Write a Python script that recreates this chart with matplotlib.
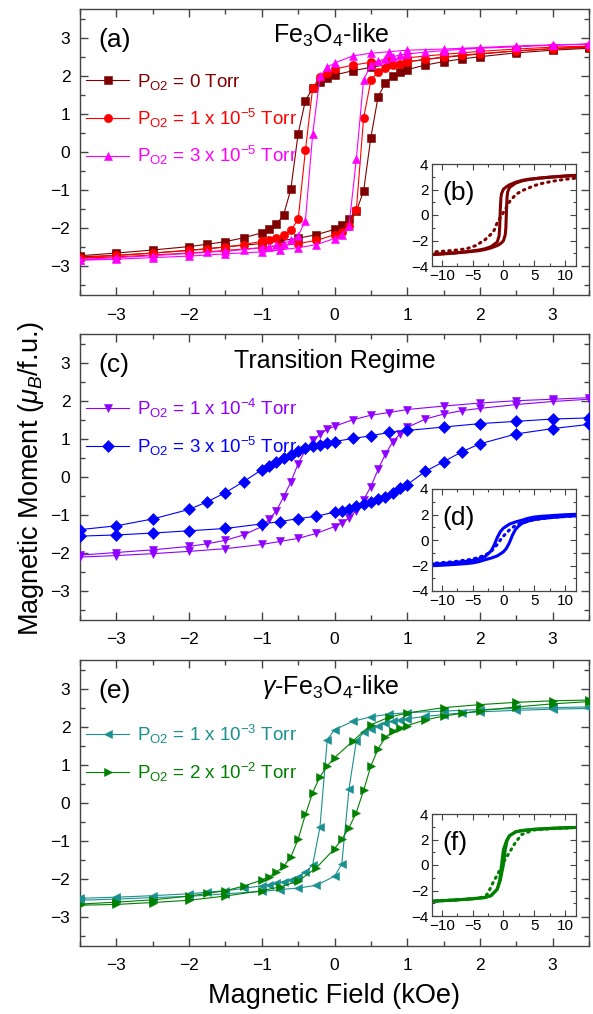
import matplotlib
matplotlib.use("Agg")
import matplotlib.pyplot as plt
from matplotlib.ticker import MultipleLocator

# ---------------------------------------------------------------------------
# Data
# ---------------------------------------------------------------------------
# measurement grid: descending branch (+3.5 -> -3.5), ascending is the mirror
H_DESC = [3.5, 3, 2.5, 2, 1.5, 1, 0.75, 0.5, 0.25, 0, -0.1, -0.2, -0.3, -0.4,
          -0.5, -0.6, -0.7, -0.8, -0.9, -1, -1.25, -1.5, -1.75, -2, -2.5, -3, -3.5]
H_ASC = [-3.5, -3, -2.5, -2, -1.5, -1, -0.75, -0.5, -0.25, 0, 0.1, 0.2, 0.3, 0.4,
         0.5, 0.6, 0.7, 0.8, 0.9, 1, 1.25, 1.5, 1.75, 2, 2.5, 3, 3.5]

# (a) Fe3O4-like
A0_DESC = [2.75, 2.71, 2.65, 2.57, 2.48, 2.37, 2.3, 2.22, 2.13, 2.02, 1.95, 1.84, 1.67, 1.35,
           0.48, -0.97, -1.65, -1.9, -2.03, -2.12, -2.25, -2.35, -2.42, -2.48, -2.57, -2.65, -2.72]
A0_ASC = [-2.75, -2.71, -2.65, -2.58, -2.49, -2.4, -2.33, -2.26, -2.17, -2.03, -1.92, -1.76, -1.55, -1.03,
          0.38, 1.45, 1.81, 1.98, 2.1, 2.16, 2.28, 2.37, 2.44, 2.5, 2.6, 2.67, 2.72]
A1_DESC = [2.78, 2.75, 2.7, 2.64, 2.56, 2.47, 2.41, 2.35, 2.28, 2.17, 2.08, 1.97, 1.68, 0.04,
           -1.77, -2.05, -2.18, -2.25, -2.3, -2.34, -2.43, -2.49, -2.54, -2.58, -2.65, -2.71, -2.77]
A1_ASC = [-2.79, -2.75, -2.7, -2.65, -2.58, -2.51, -2.46, -2.4, -2.32, -2.17, -2.1, -1.93, -1.53, 0.88,
          1.88, 2.1, 2.2, 2.27, 2.32, 2.36, 2.43, 2.49, 2.54, 2.58, 2.65, 2.71, 2.76]
A3_DESC = [2.83, 2.81, 2.78, 2.74, 2.7, 2.67, 2.63, 2.59, 2.52, 2.33, 2.22, 1.98, 0.47, -1.8,
           -2.2, -2.32, -2.4, -2.45, -2.48, -2.51, -2.56, -2.6, -2.63, -2.66, -2.72, -2.77, -2.82]
A3_ASC = [-2.84, -2.81, -2.77, -2.73, -2.67, -2.62, -2.57, -2.51, -2.43, -2.27, -2.17, -1.93, -0.19, 1.9,
          2.27, 2.38, 2.45, 2.5, 2.54, 2.57, 2.62, 2.66, 2.69, 2.72, 2.76, 2.8, 2.83]

# (c) transition regime
C4_DESC = [2.08, 2.04, 2.0, 1.94, 1.86, 1.77, 1.69, 1.62, 1.5, 1.33, 1.25, 1.12, 0.96, 0.7,
           0.35, -0.13, -0.52, -0.89, -1.11, -1.3, -1.52, -1.66, -1.75, -1.82, -1.91, -1.98, -2.05]
C4_ASC = [-2.1, -2.06, -2.01, -1.95, -1.88, -1.77, -1.69, -1.61, -1.48, -1.3, -1.21, -1.08, -0.88, -0.6,
          -0.25, 0.2, 0.6, 0.92, 1.13, 1.3, 1.52, 1.65, 1.74, 1.8, 1.9, 1.98, 2.04]
C3_DESC = [1.55, 1.52, 1.46, 1.4, 1.31, 1.22, 1.17, 1.08, 1.01, 0.93, 0.9, 0.85, 0.8, 0.76,
           0.67, 0.58, 0.49, 0.4, 0.29, 0.19, -0.12, -0.41, -0.65, -0.85, -1.1, -1.28, -1.38]
C3_ASC = [-1.55, -1.52, -1.47, -1.41, -1.35, -1.23, -1.17, -1.09, -1.03, -0.92, -0.89, -0.83, -0.77, -0.71,
          -0.66, -0.58, -0.52, -0.42, -0.3, -0.2, 0.15, 0.4, 0.66, 0.87, 1.13, 1.27, 1.38]

# (e) gamma-Fe3O4-like
E3_DESC = [2.52, 2.5, 2.48, 2.45, 2.41, 2.37, 2.33, 2.26, 2.14, 1.92, 1.66, -0.63, -1.62, -1.82,
           -1.93, -2.01, -2.06, -2.1, -2.14, -2.17, -2.24, -2.3, -2.34, -2.38, -2.43, -2.47, -2.5]
E3_ASC = [-2.55, -2.52, -2.48, -2.45, -2.38, -2.32, -2.27, -2.23, -2.16, -1.92, -1.6, 0.38, 1.62, 1.85,
          1.95, 2.03, 2.09, 2.14, 2.18, 2.21, 2.27, 2.32, 2.36, 2.39, 2.43, 2.46, 2.48]
E2_DESC = [2.7, 2.68, 2.64, 2.58, 2.5, 2.36, 2.25, 2.05, 1.62, 1.19, 0.97, 0.69, 0.27, -0.3,
           -0.95, -1.41, -1.66, -1.82, -1.93, -2.02, -2.18, -2.3, -2.37, -2.44, -2.54, -2.6, -2.65]
E2_ASC = [-2.68, -2.66, -2.61, -2.55, -2.44, -2.3, -2.2, -2.05, -1.7, -1.2, -0.95, -0.65, -0.25, 0.33,
          0.97, 1.42, 1.72, 1.88, 1.97, 2.03, 2.18, 2.28, 2.35, 2.42, 2.52, 2.6, 2.66]

# insets: wide-field loops (solid) and comparison curves (dotted)
HB_DESC = [12, 10, 8, 6, 4, 3, 2, 1, 0.5, 0, -0.3, -0.4, -0.5, -0.6, -0.7, -1, -2, -3, -4, -6, -8, -10, -12]
B_DESC = [3.12, 3.06, 2.99, 2.9, 2.8, 2.71, 2.57, 2.37, 2.22, 2.02, 1.67, 1.35, 0.48, -0.97, -1.65,
          -2.12, -2.48, -2.65, -2.75, -2.88, -2.97, -3.04, -3.1]
HB_ASC = [-12, -10, -8, -6, -4, -3, -2, -1, -0.5, 0, 0.3, 0.4, 0.5, 0.6, 0.7, 1, 2, 3, 4, 6, 8, 10, 12]
B_ASC = [-3.12, -3.06, -2.99, -2.9, -2.8, -2.71, -2.58, -2.4, -2.26, -2.03, -1.55, -1.03, 0.38, 1.45,
         1.81, 2.16, 2.5, 2.67, 2.77, 2.9, 2.98, 3.05, 3.1]
HB_DOT = [-12, -10, -8, -6, -4.5, -3, -2, -1.5, -1, -0.5, 0, 0.5, 1, 2, 3, 4, 5, 6, 8, 10, 12]
B_DOT = [-2.92, -2.85, -2.77, -2.65, -2.4, -1.95, -1.5, -1.2, -0.6, -0.2, 0.2, 0.6, 1.05, 1.6, 1.9,
         2.1, 2.3, 2.45, 2.65, 2.8, 2.9]

HD_DESC = [12, 10, 8, 6, 5, 4, 3, 2, 1, 0, -0.5, -1, -1.5, -2, -2.5, -3, -4, -5, -6, -8, -10, -12]
D_DESC = [2.02, 1.98, 1.92, 1.85, 1.8, 1.7, 1.55, 1.42, 1.25, 0.93, 0.65, 0.19, -0.41, -0.85, -1.1,
          -1.3, -1.48, -1.6, -1.67, -1.77, -1.85, -1.9]
HD_ASC = [-12, -10, -8, -6, -5, -4, -3, -2, -1, 0, 0.5, 1, 1.5, 2, 2.5, 3, 4, 5, 6, 8, 10, 12]
D_ASC = [-2.02, -1.98, -1.92, -1.85, -1.8, -1.7, -1.55, -1.42, -1.25, -0.93, -0.65, -0.19, 0.41, 0.85,
         1.1, 1.3, 1.48, 1.6, 1.67, 1.77, 1.85, 1.9]
HD_DOT = [12, 8, 5, 3, 2, 1, 0.5, 0, -0.5, -1, -2, -3, -5, -8, -12]
D_DOT = [1.9, 1.78, 1.6, 1.35, 1.15, 0.8, 0.55, 0.3, 0.0, -0.35, -0.9, -1.2, -1.5, -1.7, -1.85]

HF_DESC = [12, 8, 5, 3, 2, 1, 0.5, 0, -0.3, -0.6, -1, -2, -3, -5, -8, -12]
F_DESC = [2.95, 2.88, 2.8, 2.7, 2.6, 2.3, 1.9, 1.2, 0.0, -1.2, -1.9, -2.4, -2.55, -2.65, -2.75, -2.85]
HF_ASC = [-12, -8, -5, -3, -2, -1, -0.5, 0, 0.3, 0.6, 1, 2, 3, 5, 8, 12]
F_ASC = [-2.85, -2.75, -2.65, -2.55, -2.4, -1.9, -1.2, 0.0, 1.2, 1.9, 2.3, 2.6, 2.7, 2.8, 2.88, 2.95]
HF_DOT = [-12, -8, -5, -3, -2.5, -2, -1.5, -1, -0.5, 0, 0.5, 1, 1.5, 2, 2.5, 3, 5, 8, 12]
F_DOT = [-2.85, -2.75, -2.65, -2.5, -2.2, -1.7, -1.2, -0.8, -0.3, 0.2, 0.6, 1.0, 1.4, 1.8, 2.1,
         2.4, 2.75, 2.85, 2.95]

# ---------------------------------------------------------------------------
# Style
# ---------------------------------------------------------------------------
plt.rcParams.update({
    "font.family": ["Liberation Sans", "DejaVu Sans"],
    "mathtext.fontset": "custom",
    "mathtext.rm": "Liberation Sans",
    "mathtext.it": "Liberation Sans:italic",
    "mathtext.bf": "Liberation Sans:bold",
    "axes.linewidth": 1.0,
    "axes.edgecolor": "#444444",
    "xtick.direction": "in",
    "ytick.direction": "in",
    "xtick.top": True,
    "ytick.right": True,
    "xtick.color": "#444444",
    "ytick.color": "#444444",
    "xtick.labelcolor": "black",
    "ytick.labelcolor": "black",
})

DARKRED = "#7f0000"
RED = "#ff0000"
MAGENTA = "#ff00ff"
VIOLET = "#8f00ff"
BLUE = "#0000ff"
TEAL = "#1a9090"
GREEN = "#008000"

W, H = 593, 1014
fig = plt.figure(figsize=(W / 100, H / 100), dpi=100)


def px_axes(x0, y0, x1, y1):
    """Add axes from pixel box (left, top, right, bottom)."""
    return fig.add_axes([x0 / W, 1 - y1 / H, (x1 - x0) / W, (y1 - y0) / H])


def style_main(ax):
    ax.set_xlim(-3.5, 3.5)
    ax.set_ylim(-3.75, 3.75)
    ax.xaxis.set_major_locator(MultipleLocator(1))
    ax.xaxis.set_minor_locator(MultipleLocator(0.5))
    ax.yaxis.set_major_locator(MultipleLocator(1))
    ax.yaxis.set_minor_locator(MultipleLocator(0.5))
    ax.tick_params(which="major", length=6, width=1.0, labelsize=12.5)
    ax.tick_params(which="minor", length=3.5, width=1.0)
    ax.tick_params(axis="x", pad=9)
    ax.tick_params(axis="y", pad=7)


def style_inset(ax):
    ax.set_xlim(-11.6, 11.8)
    ax.set_ylim(-4, 4)
    ax.xaxis.set_major_locator(MultipleLocator(5))
    ax.xaxis.set_minor_locator(MultipleLocator(2.5))
    ax.yaxis.set_major_locator(MultipleLocator(2))
    ax.yaxis.set_minor_locator(MultipleLocator(1))
    ax.tick_params(which="major", length=4, width=0.8, labelsize=11, pad=2.5)
    ax.tick_params(which="minor", length=2.5, width=0.8)
    for s in ax.spines.values():
        s.set_linewidth(0.9)


def loop(ax, desc, asc, color, marker, label):
    ax.plot(H_DESC + H_ASC, desc + asc, color=color, lw=0.8, marker=marker,
            ms=6, mec=color, mew=0.4, label=label, zorder=3)


def legend(ax):
    ax.legend(loc="upper left", bbox_to_anchor=(0.012, 0.78), frameon=False,
              fontsize=13.5, handlelength=2.3, handletextpad=0.4, labelspacing=0.78,
              borderpad=0, borderaxespad=0, labelcolor="linecolor")


axA = px_axes(80, 9, 589, 295)
axC = px_axes(80, 334, 589, 620)
axE = px_axes(80, 660, 589, 946)

# (a)
loop(axA, A0_DESC, A0_ASC, DARKRED, "s", r"P$_{\mathrm{O2}}$ = 0 Torr")
loop(axA, A1_DESC, A1_ASC, RED, "o", r"P$_{\mathrm{O2}}$ = 1 x 10$^{-5}$ Torr")
loop(axA, A3_DESC, A3_ASC, MAGENTA, "^", r"P$_{\mathrm{O2}}$ = 3 x 10$^{-5}$ Torr")
axA.text(-3.25, 2.95, "(a)", fontsize=19, va="center", ha="left")
axA.text(-0.05, 3.05, r"Fe$_3$O$_4$-like", fontsize=18, va="center", ha="center")

# (c)
loop(axC, C4_DESC, C4_ASC, VIOLET, "v", r"P$_{\mathrm{O2}}$ = 1 x 10$^{-4}$ Torr")
loop(axC, C3_DESC, C3_ASC, BLUE, "D", r"P$_{\mathrm{O2}}$ = 3 x 10$^{-5}$ Torr")
axC.text(-3.25, 2.95, "(c)", fontsize=19, va="center", ha="left")
axC.text(0.0, 3.03, "Transition Regime", fontsize=18, va="center", ha="center")

# (e)
loop(axE, E3_DESC, E3_ASC, TEAL, "<", r"P$_{\mathrm{O2}}$ = 1 x 10$^{-3}$ Torr")
loop(axE, E2_DESC, E2_ASC, GREEN, ">", r"P$_{\mathrm{O2}}$ = 2 x 10$^{-2}$ Torr")
axE.text(-3.25, 2.95, "(e)", fontsize=19, va="center", ha="left")
axE.text(-0.05, 3.05, r"$\gamma$-Fe$_3$O$_4$-like", fontsize=18, va="center", ha="center")

for ax in (axA, axC, axE):
    style_main(ax)
    legend(ax)

axE.set_xlabel("Magnetic Field (kOe)", fontsize=19.5, labelpad=7)
fig.text(31 / W, 0.528, r"Magnetic Moment ($\mu_B$/f.u.)", fontsize=19.5,
         rotation=90, ha="center", va="center")

# insets
inB = px_axes(432, 164, 576, 266)
inD = px_axes(432, 489, 576, 591)
inF = px_axes(432, 814, 576, 916)

for ax, hd, yd, ha, ya, hdot, ydot, c, lab in [
    (inB, HB_DESC, B_DESC, HB_ASC, B_ASC, HB_DOT, B_DOT, DARKRED, "(b)"),
    (inD, HD_DESC, D_DESC, HD_ASC, D_ASC, HD_DOT, D_DOT, BLUE, "(d)"),
    (inF, HF_DESC, F_DESC, HF_ASC, F_ASC, HF_DOT, F_DOT, GREEN, "(f)"),
]:
    ax.plot(hd, yd, color=c, lw=2.2, solid_capstyle="round")
    ax.plot(ha, ya, color=c, lw=2.2, solid_capstyle="round")
    ax.plot(hdot, ydot, color=c, lw=2.2, ls=(0, (0.5, 1.6)), dash_capstyle="round")
    ax.text(0.07, 0.72, lab, transform=ax.transAxes, fontsize=19, va="center", ha="left")
    style_inset(ax)

fig.savefig("out.png", dpi=100)
